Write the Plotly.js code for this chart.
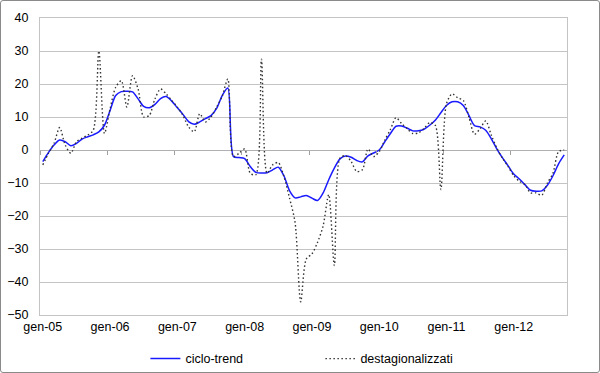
<!DOCTYPE html>
<html>
<head>
<meta charset="utf-8">
<script src="https://cdn.plot.ly/plotly-3.0.1.min.js"></script>
<style>
  html, body { margin: 0; padding: 0; background: #fff; }
  #wrap { position: relative; width: 600px; height: 373px; }
  #chart { position: absolute; left: 0; top: 0; width: 600px; height: 373px; }
  #frame { position: absolute; left: 0; top: 0; width: 600px; height: 373px; box-sizing: border-box;
           border: 1px solid #8a8a8a; border-radius: 3px; pointer-events: none; }
</style>
</head>
<body>
<div id="wrap"><div id="chart"></div><div id="frame"></div></div>
<script>
// Month categories: gen-05 ... ott-12 (94 months)
const monthNames = ["gen","feb","mar","apr","mag","giu","lug","ago","set","ott","nov","dic"];
const years = ["05","06","07","08","09","10","11","12"];
const months = [];
years.forEach(y => monthNames.forEach(m => months.push(m + "-" + y)));
months.length = 94;

const yearLabels = ["gen-05","gen-06","gen-07","gen-08","gen-09","gen-10","gen-11","gen-12"];

const cicloTrend = [
  -3.5, -0.8, 1.5, 3.0, 2.5, 1.3, 2.0, 3.3, 4.0, 4.6, 5.5, 7.5,
  12.0, 16.5, 17.7, 17.8, 17.6, 15.5, 13.2, 12.8, 13.8, 15.6, 16.2, 14.8,
  12.8, 10.8, 8.6, 7.8, 8.5, 9.5, 10.4, 12.6, 16.5, 18.8, -2.0, -2.3,
  -2.6, -5.0, -6.8, -7.0, -6.9, -6.0, -5.2, -7.8, -12.3, -14.5, -14.2, -13.8,
  -14.6, -15.3, -13.0, -9.0, -5.5, -2.7, -1.8, -2.2, -3.2, -3.6, -1.8, -0.9,
  0.0, 2.5, 5.0, 7.2, 7.3, 6.6, 5.8, 5.8, 6.3, 7.5, 9.0, 11.3,
  13.5, 14.6, 14.6, 13.5, 10.5, 7.4, 7.0, 6.0, 3.4, 0.3, -2.4, -4.8,
  -7.3, -8.8, -10.5, -12.2, -12.5, -12.4, -10.7, -7.8, -4.2, -1.5
];

const destagionalizzati = [
  -4.5, -1.0, 2.0, 6.8, 1.5, -1.0, 2.5, 3.6, 4.5, 6.0, 30.0, 5.0,
  12.5, 19.0, 21.0, 13.0, 22.5, 18.5, 10.0, 10.5, 15.5, 18.5, 17.0, 15.0,
  13.0, 10.5, 7.0, 5.5, 11.0, 8.5, 10.0, 13.0, 16.3, 21.5, -2.0, -1.0,
  0.3, -7.0, -7.5, 27.5, -7.0, -4.5, -3.8, -8.0, -14.5, -22.0, -46.0, -33.0,
  -31.5, -28.0, -23.0, -13.5, -35.0, -2.5, -1.7, -3.5, -6.5, -6.0, 0.3, -2.0,
  -0.5, 3.0, 6.2, 9.8, 8.0, 6.5, 5.0, 5.2, 6.5, 8.3, 7.5, -12.0,
  14.0, 17.0, 15.8, 15.0, 10.0, 4.8, 6.5, 8.8, 4.5, 0.5, -2.5, -5.0,
  -7.8, -9.5, -10.5, -13.0, -13.0, -13.7, -10.0, -7.0, -0.5, 0.0
];

const xIdx = months.map((_, i) => i);
const labelIdx = yearLabels.map(l => months.indexOf(l));
const boundaryIdx = labelIdx.map(i => i - 0.5);
const xRange = [-0.5, months.length - 0.5];
const yRange = [-50, 40];

const traces = [
  {
    x: xIdx, y: cicloTrend, name: "ciclo-trend", type: "scatter", mode: "lines",
    text: months, hoverinfo: "text+y",
    line: { color: "#1a1aff", width: 1.5, shape: "spline", smoothing: 0.8 }
  },
  {
    x: xIdx, y: destagionalizzati, name: "destagionalizzati", type: "scatter", mode: "lines",
    text: months, hoverinfo: "text+y",
    line: { color: "#333333", width: 1.4, dash: "1.5px,2.5px", shape: "spline", smoothing: 0.8 }
  },
  { x: [], y: [], xaxis: "x2", yaxis: "y", showlegend: false, hoverinfo: "skip", type: "scatter" }
];

const gridC = "#c4c4c4";
const layout = {
  width: 600, height: 373,
  margin: { l: 40, r: 33, t: 18, b: 58, pad: 0, autoexpand: false },
  paper_bgcolor: "#ffffff", plot_bgcolor: "#ffffff",
  font: { family: "Liberation Sans, Arial, sans-serif", size: 12.5, color: "#000" },
  showlegend: true,
  legend: {
    orientation: "h", x: 0.2, xanchor: "left", y: -0.148, yanchor: "middle",
    font: { size: 12.5, color: "#000" }, entrywidth: 130, entrywidthmode: "pixels",
    itemwidth: 30, bgcolor: "rgba(0,0,0,0)"
  },
  xaxis: {
    range: xRange, tickmode: "array", tickvals: labelIdx, ticktext: yearLabels,
    showgrid: false, zeroline: false, ticks: "", automargin: false,
    showline: true, linecolor: gridC, linewidth: 1, mirror: true,
    tickfont: { size: 12.5, color: "#000" }
  },
  xaxis2: {
    overlaying: "x", anchor: "free",
    position: (0 - yRange[0]) / (yRange[1] - yRange[0]),
    range: xRange, tickmode: "array", tickvals: boundaryIdx,
    ticks: "outside", ticklen: 4, tickcolor: "#a0a0a0", tickwidth: 1,
    showticklabels: false, showgrid: false, zeroline: false, showline: false
  },
  yaxis: {
    range: yRange, dtick: 10, tick0: 0, automargin: false,
    showgrid: true, gridcolor: gridC, gridwidth: 1,
    zeroline: true, zerolinecolor: "#b0b0b0", zerolinewidth: 1,
    showline: true, linecolor: gridC, linewidth: 1, mirror: true,
    ticks: "", ticklabelstandoff: 8,
    tickfont: { size: 12.5, color: "#000" }
  }
};

Plotly.newPlot("chart", traces, layout, { displayModeBar: false, staticPlot: true });
</script>
</body>
</html>
